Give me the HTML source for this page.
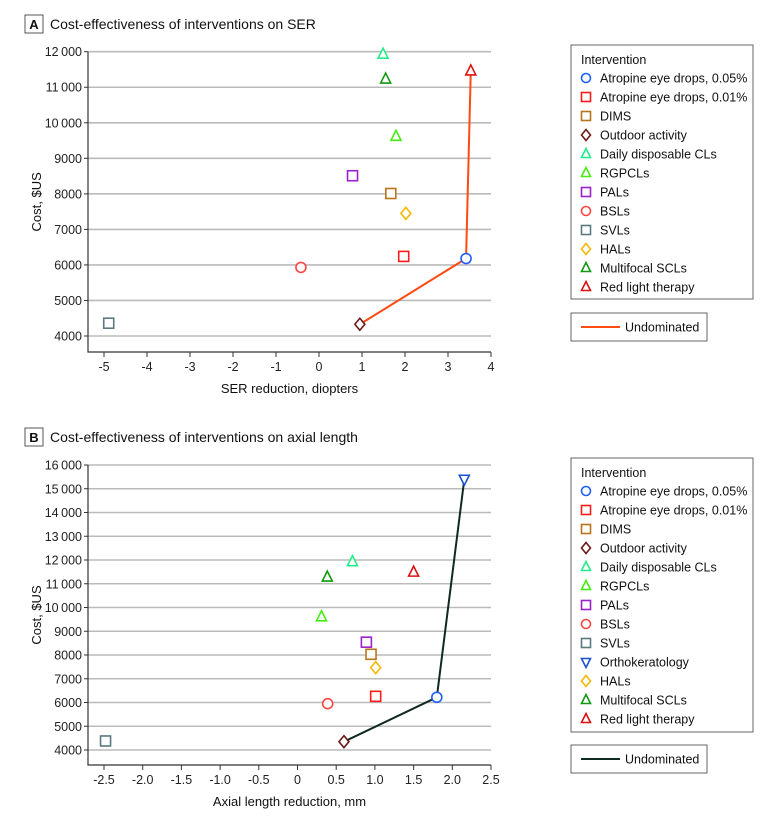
<!DOCTYPE html>
<html><head><meta charset="utf-8"><style>
body{margin:0;background:#fff;}
svg{display:block;font-family:"Liberation Sans",sans-serif;}
</style></head><body>
<svg id="chart" width="780" height="820"></svg>
<script>
const names = ["Atropine eye drops, 0.05%","Atropine eye drops, 0.01%","DIMS","Outdoor activity","Daily disposable CLs","RGPCLs","PALs","BSLs","SVLs","Orthokeratology","HALs","Multifocal SCLs","Red light therapy"];
const colors = ["#1f5fff","#ff1a1a","#b8741a","#6b1a1a","#22ee88","#44ee11","#9a22cc","#ff4444","#5a7a80","#1a4fd0","#f5b800","#119911","#dd1111"];
const shapes = ["circle","square","square","diamond","tri","tri","square","circle","square","tridown","diamond","tri","tri"];
// Panel A (SER) - null = not shown
const serX = [3.42,1.97,1.67,0.95,1.49,1.79,0.78,-0.42,-4.89,null,2.02,1.55,3.53];
const serCost = [6180,6240,8010,4330,11930,9620,8510,5930,4360,null,7450,11230,11460];
const serFrontier = [3,0,12];
const serXTicks = [-5,-4,-3,-2,-1,0,1,2,3,4];
const serYTicks = [4000,5000,6000,7000,8000,9000,10000,11000,12000];
// Panel B (axial length)
const alX = [1.80,1.01,0.95,0.60,0.71,0.31,0.89,0.39,-2.48,2.155,1.01,0.385,1.50];
const alCost = [6220,6260,8030,4350,11930,9610,8540,5950,4380,15400,7470,11280,11490];
const alFrontier = [3,0,9];
const alXTicks = [-2.5,-2.0,-1.5,-1.0,-0.5,0,0.5,1.0,1.5,2.0,2.5];
const alYTicks = [4000,5000,6000,7000,8000,9000,10000,11000,12000,13000,14000,15000,16000];

const NS="http://www.w3.org/2000/svg";
const svg=document.getElementById('chart');
function mk(tag,attrs,parent){const e=document.createElementNS(NS,tag);for(const k in attrs)e.setAttribute(k,attrs[k]);(parent||svg).appendChild(e);return e;}
function fmt(v){if(v>=10000){const s=String(v);return s.slice(0,s.length-3)+"\u2009"+s.slice(-3);}return String(v);}
function marker(g,shape,cx,cy,color,r){
  let e;
  if(shape==="circle")e=mk('circle',{cx:cx,cy:cy,r:r,fill:'#fff',stroke:color,'stroke-width':1.6},g);
  else if(shape==="square")e=mk('rect',{x:cx-r,y:cy-r,width:2*r,height:2*r,fill:'#fff',stroke:color,'stroke-width':1.6},g);
  else if(shape==="diamond")e=mk('polygon',{points:`${cx},${cy-r-1} ${cx+r},${cy} ${cx},${cy+r+1} ${cx-r},${cy}`,fill:'#fff',stroke:color,'stroke-width':1.6},g);
  else if(shape==="tri")e=mk('polygon',{points:`${cx},${cy-r-1} ${cx+r},${cy+r-1} ${cx-r},${cy+r-1}`,fill:'#fff',stroke:color,'stroke-width':1.6},g);
  else e=mk('polygon',{points:`${cx-r},${cy-r+1} ${cx+r},${cy-r+1} ${cx},${cy+r+1}`,fill:'#fff',stroke:color,'stroke-width':1.6},g);
  return e;
}
function panel(o){
  const g=mk('g',{});
  
  
  const tb=mk('rect',{x:25,y:o.titleY-9,width:18,height:18,fill:'#fff',stroke:'#555','stroke-width':1},g);
  
  const tl=mk('text',{x:34,y:o.titleY+5,'text-anchor':'middle','font-size':13,'font-weight':'bold',fill:'#111'},g);tl.textContent=o.letter;
  
  const tt=mk('text',{x:50,y:o.titleY+5,'font-size':14,fill:'#111'},g);tt.textContent=o.title;
  
  const L=88,R=491;
  const xs=v=>o.x0px+(v-o.xt[0])*(R-o.x0px)/(o.xt[o.xt.length-1]-o.xt[0]);
  const ys=v=>o.yBot-(v-o.yt[0])*(o.yBot-o.yTop)/(o.yt[o.yt.length-1]-o.yt[0]);
  o.yt.forEach(t=>{
    const gl=mk('line',{x1:L,x2:R,y1:ys(t),y2:ys(t),stroke:'#bbb','stroke-width':1.6},g);
    
    mk('line',{x1:L-4,x2:L,y1:ys(t),y2:ys(t),stroke:'#333'},g);
    const tx=mk('text',{x:L-6,y:ys(t)+4.5,'text-anchor':'end','font-size':12.5,fill:'#222'},g);tx.textContent=fmt(t);
    
  });
  const ax=mk('path',{d:`M${L},${o.yTop} V${o.axisB} H${R}`,fill:'none',stroke:'#333','stroke-width':1.2},g);
  
  o.xt.forEach(t=>{
    mk('line',{x1:xs(t),x2:xs(t),y1:o.axisB,y2:o.axisB+5,stroke:'#333'},g);
    const tx=mk('text',{x:xs(t),y:o.axisB+19,'text-anchor':'middle','font-size':12.5,fill:'#222'},g);
    tx.textContent=o.dec?(t===0?"0":t.toFixed(1)):String(t);
    
  });
  const xt=mk('text',{x:(L+R)/2,y:o.axisB+41,'text-anchor':'middle','font-size':13,fill:'#111'},g);xt.textContent=o.xTitle;
  
  const yc=(o.yTop+o.axisB)/2;
  const yt=mk('text',{x:0,y:0,transform:`translate(41,${yc}) rotate(-90)`,'text-anchor':'middle','font-size':13,fill:'#111'},g);yt.textContent="Cost, $US";
  
  const pts=o.front.map(i=>xs(o.px[i])+","+ys(o.py[i])).join(" ");
  const fl=mk('polyline',{points:pts,fill:'none',stroke:o.lineColor,'stroke-width':2},g);
  
  o.px.forEach((v,i)=>{
    if(v===null)return;
    const m=marker(g,shapes[i],xs(v),ys(o.py[i]),colors[i],5);
    
    
  });
  const items=names.map((n,i)=>i).filter(i=>o.px[i]!==null);
  const lb=mk('rect',{x:571,y:o.legTop,width:182,height:o.legH,fill:'#fff',stroke:'#666'},g);
  
  const lh=mk('text',{x:581,y:o.legTop+19,'font-size':12.5,fill:'#111'},g);lh.textContent="Intervention";
  
  items.forEach((i,k)=>{
    const cy=o.legTop+33+k*19;
    const m=marker(g,shapes[i],586,cy,colors[i],4.5);
    
    const t=mk('text',{x:600,y:cy+4.5,'font-size':12.5,fill:'#111'},g);t.textContent=names[i];
    
  });
  const ub=mk('rect',{x:571,y:o.uTop,width:136,height:28,fill:'#fff',stroke:'#666'},g);
  
  mk('line',{x1:581,x2:620,y1:o.uTop+14,y2:o.uTop+14,stroke:o.lineColor,'stroke-width':2},g);
  const ut=mk('text',{x:625,y:o.uTop+18.5,'font-size':12.5,fill:'#111'},g);ut.textContent="Undominated";
  
}
panel({id:'ser',letter:'A',title:'Cost-effectiveness of interventions on SER',titleY:24,xt:serXTicks,yt:serYTicks,x0px:104,yTop:51.7,yBot:336,axisB:352,px:serX,py:serCost,front:serFrontier,lineColor:'#ff4a10',xTitle:'SER reduction, diopters',dec:false,legTop:45,legH:254,uTop:313});
panel({id:'axial',letter:'B',title:'Cost-effectiveness of interventions on axial length',titleY:437,xt:alXTicks,yt:alYTicks,x0px:104,yTop:465,yBot:750,axisB:765,px:alX,py:alCost,front:alFrontier,lineColor:'#0f2a22',xTitle:'Axial length reduction, mm',dec:true,legTop:458,legH:274,uTop:745});
</script>
</body></html>
